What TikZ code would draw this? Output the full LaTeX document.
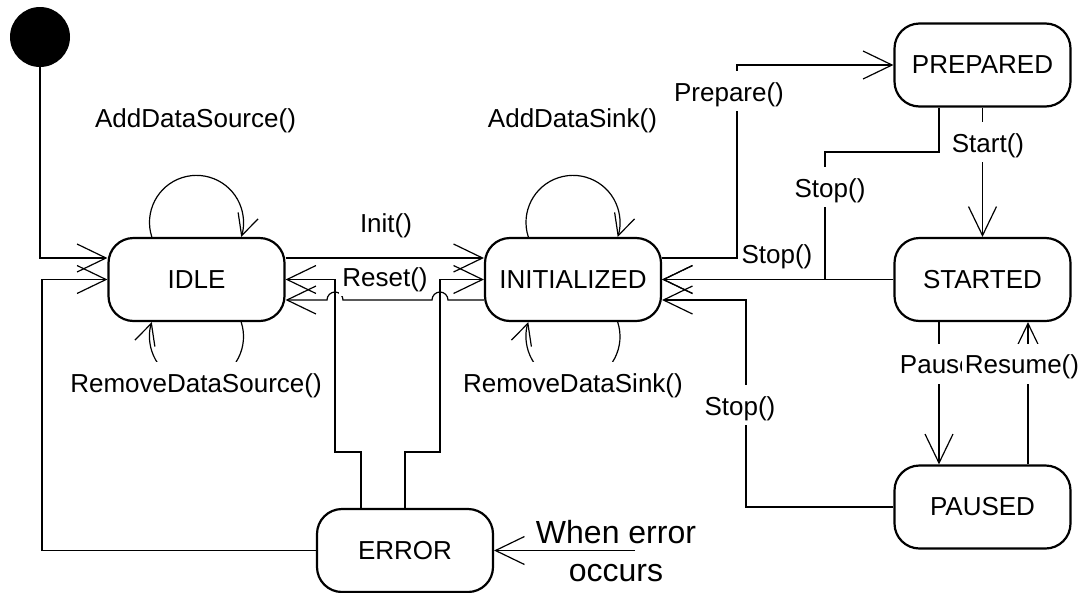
\documentclass[tikz,border=0pt]{standalone}
\usepackage{fontspec}
\setmainfont{Liberation Sans}
\usetikzlibrary{arrows.meta}
\begin{document}
\begin{tikzpicture}[x=1pt,y=-1pt,
  state/.style={draw, line width=2.2pt, rounded corners=25pt, minimum width=176pt, minimum height=83pt, inner sep=0pt, font=\fontsize{26}{31}\selectfont},
  conn/.style={line width=1.2pt},
  arr/.style={conn, -{Straight Barb[length=29pt,width=28pt]}},
  looparr/.style={conn, -{Straight Barb[length=21pt,width=21pt]}},
  lbl/.style={font=\fontsize{26}{31}\selectfont, inner xsep=3pt, inner ysep=6pt, text height=24pt, text depth=4pt, anchor=base},
  lblw/.style={lbl, fill=white},
]
\useasboundingbox (0,0) rectangle (1081,592);

% states
\node[circle, fill=black, minimum size=60pt, inner sep=0pt] (start) at (40,37) {};
\node[state] (IDLE) at (196.5,279.5) {IDLE};
\node[state] (INIT) at (573,279.5) {INITIALIZED};
\node[state] (PREPARED) at (982.5,65) {PREPARED};
\node[state] (STARTED) at (982.5,279.5) {STARTED};
\node[state] (PAUSED) at (982.5,507) {PAUSED};
\node[state] (ERROR) at (405,550.5) {ERROR};
\coordinate (errsrc) at (635,550.5);

% connectors
\draw[arr] (start) |- ([yshift=21.5pt]IDLE.west);
\draw[looparr] ([xshift=-44.7pt]IDLE.north) arc[start angle=162, end angle=378, radius=47];
\draw[looparr] ([xshift=44.7pt]IDLE.south) arc[start angle=-18, end angle=198, radius=47];
\draw[looparr] ([xshift=-44.7pt]INIT.north) arc[start angle=162, end angle=378, radius=47];
\draw[looparr] ([xshift=44.7pt]INIT.south) arc[start angle=-18, end angle=198, radius=47];

\draw[arr] ([yshift=-20.5pt]INIT.west) -- (448,300) arc[start angle=0, end angle=-180, radius=8]
  -- (343,300) arc[start angle=0, end angle=-180, radius=8] -- ([yshift=-20.5pt]IDLE.east);
\draw[arr] ([xshift=-44pt]ERROR.north) |- (335,452) |- (IDLE.east);
\draw[arr] (ERROR.north) |- (440,452) |- (INIT.west);
\draw[arr] (ERROR.west) -| (42,400) |- (IDLE.west);
\draw[arr] (errsrc) -- (ERROR.east);

\draw[arr] ([yshift=21.5pt]INIT.east) -| (737,160) |- (PREPARED.west);
\draw[arr] ([xshift=-43.5pt]PREPARED.south) |- (825,152) |- (INIT.east);
\draw[arr] (STARTED.west) -- (INIT.east);
\draw[arr] (PREPARED) -- (STARTED);
\draw[arr] ([xshift=-43.5pt]STARTED.south) -- ([xshift=-43.5pt]PAUSED.north);
\draw[arr] ([xshift=45.5pt]PAUSED.north) -- ([xshift=45.5pt]STARTED.south);
\draw[arr] (PAUSED.west) -| (746,400) |- ([yshift=-20.5pt]INIT.east);

% labels
\node[lbl] (lAddSrc) at (195.5,127) {AddDataSource()};
\node[lbl] (lAddSink) at (572.5,127) {AddDataSink()};
\node[lblw] (lRemSrc) at (196,392) {RemoveDataSource()};
\node[lblw] (lRemSink) at (573,392) {RemoveDataSink()};
\node[lblw] (lReset) at (385,286) {Reset()};
\node[lbl] (lInit) at (386,232) {Init()};
\node[lblw] (lPrep) at (729,101) {Prepare()};
\node[lblw] (lStop1) at (830,197) {Stop()};
\node[lbl] (lStop2) at (777,263.6) {Stop()};
\node[lblw] (lStart) at (988,152) {Start()};
\node[lblw] (lPause) at (945.5,373.6) {Pause()};
\node[lblw] (lResume) at (1022,373.6) {Resume()};
\node[lblw] (lStop3) at (740,415) {Stop()};
\node[align=center, anchor=north, inner sep=0pt, font=\fontsize{32}{38}\selectfont] (lerr) at (616,520) {When error\\occurs};

% Init edge drawn over the Reset label box
\draw[arr] ([yshift=21.5pt]IDLE.east) -- ([yshift=21.5pt]INIT.west);
\end{tikzpicture}
\end{document}
